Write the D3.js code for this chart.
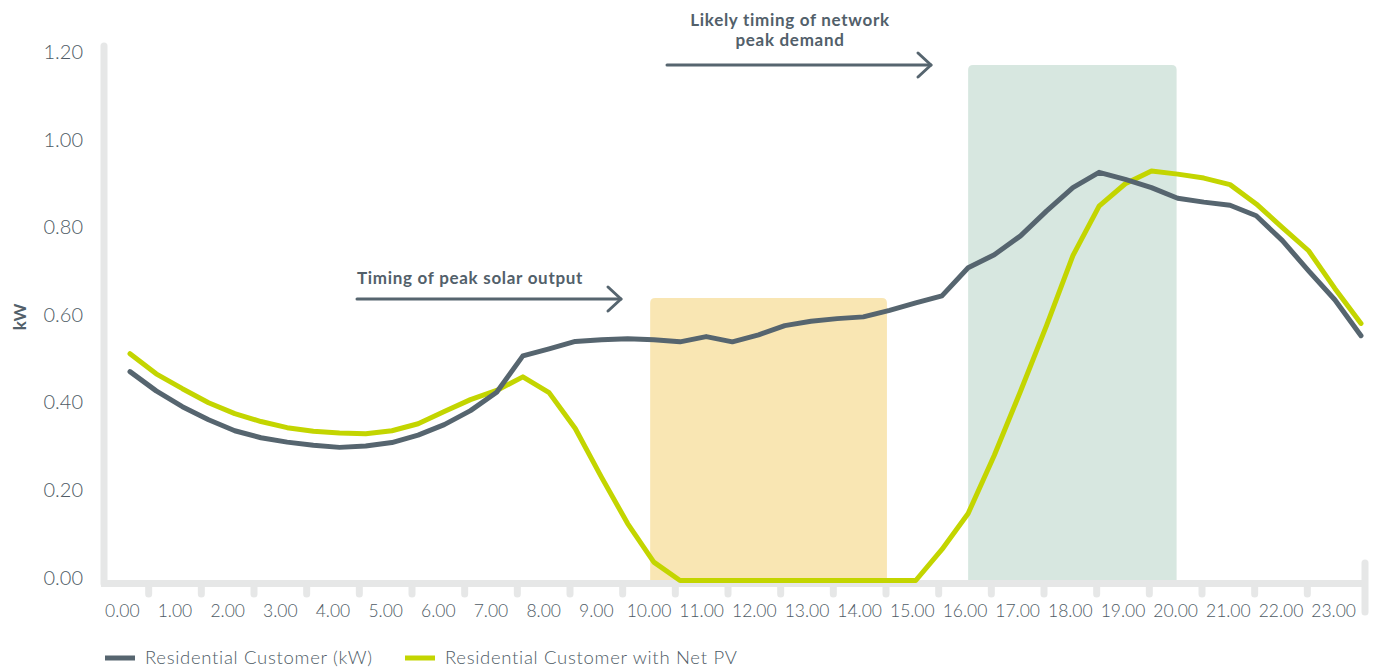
<!DOCTYPE html>
<html>
<head>
<meta charset="utf-8">
<script src="https://cdn.jsdelivr.net/npm/d3@7/dist/d3.min.js"></script>
<style>
  body { margin: 0; background: #fff; }
  svg { display: block; font-family: Lato, "Noto Sans", sans-serif; }
  .tick-label { fill: #4e5b65; font-size: 17.5px; font-weight: 300; }
  .ylab { font-size: 20px; }
  .legend text { fill: #4e5b65; font-size: 18.5px; font-weight: 300; letter-spacing: 0.7px; }
  .note { fill: #52606a; font-size: 17px; font-weight: 700; letter-spacing: 0.7px; }
</style>
</head>
<body>
<svg id="chart"></svg>
<script>
// half-hourly readings, 0:00 .. 23:30
var times = [0, 0.5, 1, 1.5, 2, 2.5, 3, 3.5, 4, 4.5, 5, 5.5, 6, 6.5, 7, 7.5,
  8, 8.5, 9, 9.5, 10, 10.5, 11, 11.5, 12, 12.5, 13, 13.5, 14, 14.5, 15, 15.5,
  16, 16.5, 17, 17.5, 18, 18.5, 19, 19.5, 20, 20.5, 21, 21.5, 22, 22.5, 23, 23.5];

var residential = [0.477, 0.433, 0.397, 0.367, 0.342, 0.326, 0.316, 0.309,
  0.304, 0.307, 0.315, 0.332, 0.356, 0.388, 0.430, 0.513,
  0.529, 0.546, 0.550, 0.552, 0.550, 0.545, 0.557, 0.545,
  0.561, 0.582, 0.592, 0.598, 0.602, 0.617, 0.634, 0.650,
  0.714, 0.744, 0.787, 0.844, 0.897, 0.932, 0.916, 0.897,
  0.873, 0.864, 0.857, 0.833, 0.776, 0.707, 0.641, 0.559];

var netPV = [0.518, 0.472, 0.438, 0.406, 0.381, 0.363, 0.349, 0.341,
  0.337, 0.335, 0.342, 0.358, 0.386, 0.413, 0.434, 0.465,
  0.429, 0.347, 0.236, 0.130, 0.042, 0, 0, 0,
  0, 0, 0, 0, 0, 0, 0, 0.071,
  0.153, 0.286, 0.432, 0.583, 0.742, 0.855, 0.906, 0.935,
  0.928, 0.919, 0.904, 0.860, 0.806, 0.753, 0.667, 0.587];

var hourLabels = ["0.00", "1.00", "2.00", "3.00", "4.00", "5.00", "6.00", "7.00",
  "8.00", "9.00", "10.00", "11.00", "12.00", "13.00", "14.00", "15.00",
  "16.00", "17.00", "18.00", "19.00", "20.00", "21.00", "22.00", "23.00"];

var kwTicks = [0, 0.2, 0.4, 0.6, 0.8, 1.0, 1.2];

// shaded periods: [start hour, end hour, top kW]
var solarPeriod = [9.93, 14.45, 0.645];
var demandPeriod = [16.0, 19.98, 1.177];

var seriesNames = ["Residential Customer (kW)", "Residential Customer with Net PV"];

var width = 1378, height = 670;
var slate = "#56656f", lime = "#c3d500", axisGrey = "#e6e7e7";

var svg = d3.select("#chart").attr("width", width).attr("height", height);

var x = d3.scaleLinear().domain([0, 23.5]).range([130, 1361]);
var xBand = d3.scaleBand().domain(hourLabels).range([96, 1360]);
var y = d3.scaleLinear().domain([0, 1.2]).range([580.5, 55]);

function topRounded(x0, x1, y0, y1, r) {
  return "M" + x0 + "," + y1 + "V" + (y0 + r) + "Q" + x0 + "," + y0 + " " + (x0 + r) + "," + y0 +
    "H" + (x1 - r) + "Q" + x1 + "," + y0 + " " + x1 + "," + (y0 + r) + "V" + y1 + "Z";
}

svg.append("path")
    .attr("d", topRounded(x(solarPeriod[0]), x(solarPeriod[1]), y(solarPeriod[2]), y(0), 5))
    .attr("fill", "#f9e6b3");

svg.append("path")
    .attr("d", topRounded(x(demandPeriod[0]), x(demandPeriod[1]), y(demandPeriod[2]), y(0), 5))
    .attr("fill", "#d7e7e0");

// axis frame
var frame = svg.append("g")
    .attr("stroke", axisGrey)
    .attr("stroke-width", 7)
    .attr("stroke-linecap", "round");

frame.append("line").attr("x1", 104).attr("x2", 104).attr("y1", 46).attr("y2", 583.5);
frame.append("line").attr("x1", 101).attr("x2", 1365).attr("y1", 583.5).attr("y2", 583.5)
    .attr("stroke-linecap", "butt");
frame.append("line").attr("x1", 1365).attr("x2", 1365).attr("y1", 563).attr("y2", 612);

frame.selectAll("line.tick")
    .data(hourLabels.slice(1))
    .enter().append("line")
    .attr("class", "tick")
    .attr("x1", function(d) { return xBand(d); })
    .attr("x2", function(d) { return xBand(d); })
    .attr("y1", 584)
    .attr("y2", 594);

svg.selectAll("text.xlab")
    .data(hourLabels)
    .enter().append("text")
    .attr("class", "tick-label xlab")
    .attr("x", function(d) { return xBand(d) + xBand.bandwidth() / 2; })
    .attr("y", 617)
    .attr("text-anchor", "middle")
    .text(function(d) { return d; });

svg.selectAll("text.ylab")
    .data(kwTicks)
    .enter().append("text")
    .attr("class", "tick-label ylab")
    .attr("x", 83)
    .attr("y", function(d) { return y(d) - 3; })
    .attr("dy", "0.35em")
    .attr("text-anchor", "end")
    .text(function(d) { return d.toFixed(2); });

svg.append("text")
    .attr("class", "note")
    .attr("transform", "translate(26,317) rotate(-90)")
    .attr("text-anchor", "middle")
    .style("letter-spacing", "0px")
    .text("kW");

// series
var line = d3.line()
    .x(function(d, i) { return x(times[i]); })
    .y(function(d) { return y(d); });

[[netPV, lime], [residential, slate]].forEach(function(s) {
  svg.append("path")
      .datum(s[0])
      .attr("d", line)
      .attr("fill", "none")
      .attr("stroke", s[1])
      .attr("stroke-width", 5)
      .attr("stroke-linejoin", "round")
      .attr("stroke-linecap", "round");
});

// annotations
function arrow(x0, x1, yy) {
  var g = svg.append("g")
      .attr("fill", "none")
      .attr("stroke", slate)
      .attr("stroke-width", 3)
      .attr("stroke-linecap", "round")
      .attr("stroke-linejoin", "round");
  g.append("line").attr("x1", x0).attr("x2", x1).attr("y1", yy).attr("y2", yy);
  g.append("path").attr("d", "M" + (x1 - 13) + "," + (yy - 12) + "L" + x1 + "," + yy + "L" + (x1 - 13) + "," + (yy + 12));
}

svg.append("text")
    .attr("class", "note")
    .attr("x", 357)
    .attr("y", 284)
    .text("Timing of peak solar output");
arrow(357, 621, 299);

var peakNote = svg.append("text")
    .attr("class", "note")
    .attr("text-anchor", "middle");
peakNote.append("tspan").attr("x", 790).attr("y", 26).text("Likely timing of network");
peakNote.append("tspan").attr("x", 790).attr("y", 46).text("peak demand");
arrow(667, 931, 65);

// legend
var legend = svg.selectAll("g.legend")
    .data(seriesNames)
    .enter().append("g")
    .attr("class", "legend")
    .attr("transform", function(d, i) { return "translate(" + (105 + i * 300) + ",658)"; });

legend.append("line")
    .attr("x1", 0).attr("x2", 30)
    .attr("stroke", function(d, i) { return i === 0 ? slate : lime; })
    .attr("stroke-width", 5);

legend.append("text")
    .attr("x", 40)
    .attr("dy", "0.35em")
    .text(function(d) { return d; });
</script>
</body>
</html>
